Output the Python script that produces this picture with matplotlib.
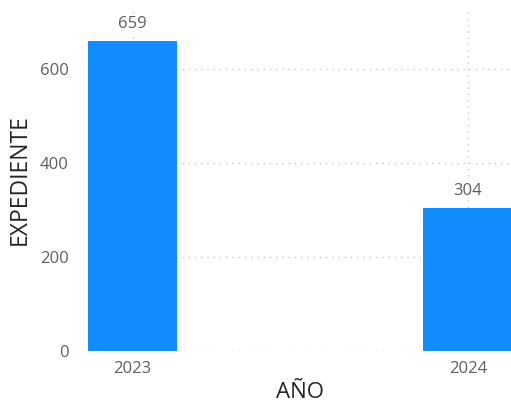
import matplotlib.pyplot as plt

years = ["2023", "2024"]
expedientes = [659, 304]

plt.rcParams['font.family'] = ['Open Sans', 'DejaVu Sans']

fig = plt.figure(figsize=(5.11, 4.05), dpi=100)
# axes in pixels: left 88, right 511 (cut), bottom 351, top 8
ax = fig.add_axes([88 / 511, (405 - 351) / 405, (511 - 88) / 511, (351 - 8) / 405])

x = list(range(len(years)))
ax.bar(x, expedientes, width=0.266, color='#118DFF', zorder=3)

for xi, v in zip(x, expedientes):
    ax.text(xi, v + 20, str(v), ha='center', va='bottom', fontsize=12, color='#605E5C', zorder=4,
            bbox=dict(facecolor='white', edgecolor='none', pad=1))

ax.set_xlim(-0.133, 1.128)
ax.set_ylim(0, 730)
ax.set_yticks([0, 200, 400, 600])
ax.set_xticks(x)
ax.set_xticklabels(years)

ax.grid(True, color='#C8C8C8', linestyle=(0, (1, 3.5)), linewidth=1, zorder=0)
for s in ax.spines.values():
    s.set_visible(False)
ax.tick_params(length=0, labelsize=12, labelcolor='#605E5C', pad=14)
ax.tick_params(axis='x', pad=7)

ax.set_ylabel('EXPEDIENTE', fontsize=16.5, color='#252423', labelpad=6)
ax.set_xlabel('AÑO', fontsize=16, color='#252423', labelpad=4)

fig.savefig('out.png', dpi=100)
